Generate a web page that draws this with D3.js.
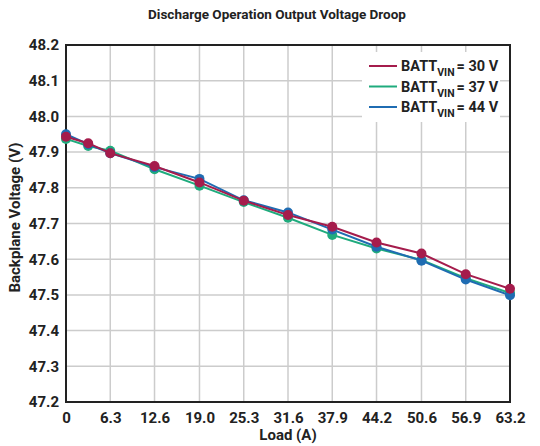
<!DOCTYPE html>
<html>
<head>
<meta charset="utf-8">
<script src="https://cdn.jsdelivr.net/npm/d3@7"></script>
<style>
  body { margin: 0; background: #fff; }
  svg { display: block; font-family: Roboto, "Noto Sans", sans-serif; font-weight: bold; }
</style>
</head>
<body>
<div id="chart"></div>
<script>
// data
const loadA = [0, 3.16, 6.3, 12.6, 19.0, 25.3, 31.6, 37.9, 44.2, 50.6, 56.9, 63.2];
const xTicks = [0, 6.3, 12.6, 19.0, 25.3, 31.6, 37.9, 44.2, 50.6, 56.9, 63.2];
const yTicks = [47.2, 47.3, 47.4, 47.5, 47.6, 47.7, 47.8, 47.9, 48.0, 48.1, 48.2];
const batt30 = [47.943, 47.925, 47.897, 47.861, 47.815, 47.764, 47.724, 47.691, 47.647, 47.616, 47.558, 47.517];
const batt37 = [47.937, 47.917, 47.904, 47.852, 47.806, 47.760, 47.716, 47.668, 47.630, 47.598, 47.547, 47.505];
const batt44 = [47.950, 47.922, 47.897, 47.858, 47.825, 47.765, 47.731, 47.683, 47.635, 47.596, 47.543, 47.499];
const seriesNames = ["30 V", "37 V", "44 V"];
const seriesColors = ["#a51c4c", "#1fab7d", "#1f6cb2"];

const W = 540, H = 446;
const margin = { top: 45, right: 30, bottom: 44, left: 66 };
const width = W - margin.left - margin.right;
const height = H - margin.top - margin.bottom;

const svg = d3.select("#chart").append("svg")
    .attr("width", W)
    .attr("height", H);

const g = svg.append("g")
    .attr("transform", `translate(${margin.left},${margin.top})`);

const x = d3.scaleLinear().domain([0, 63.2]).range([0, width]);
const y = d3.scaleLinear().domain([47.2, 48.2]).range([height, 0]);

// grid
g.append("g").selectAll("line")
    .data(xTicks)
    .join("line")
    .attr("x1", d => x(d)).attr("x2", d => x(d))
    .attr("y1", 0).attr("y2", height)
    .attr("stroke", "#cccccc").attr("stroke-width", 1.5);

g.append("g").selectAll("line")
    .data(yTicks)
    .join("line")
    .attr("x1", 0).attr("x2", width)
    .attr("y1", d => y(d)).attr("y2", d => y(d))
    .attr("stroke", "#cccccc").attr("stroke-width", 1.5);

// legend background (covers the grid)
const legend = g.append("g").attr("transform", `translate(${width - 148},7)`);
legend.append("rect")
    .attr("width", 138).attr("height", 70)
    .attr("fill", "#fff");

// axes
const xAxis = g.append("g")
    .attr("transform", `translate(0,${height})`)
    .call(d3.axisBottom(x).tickValues(xTicks).tickSize(0).tickPadding(10)
        .tickFormat(d => d === 0 ? "0" : d3.format(".1f")(d)));
const yAxis = g.append("g")
    .call(d3.axisLeft(y).tickValues(yTicks).tickSize(0).tickPadding(7)
        .tickFormat(d3.format(".1f")));

[xAxis, yAxis].forEach(a => {
    a.select(".domain").remove();
    a.selectAll("text")
        .style("font-family", "Roboto, sans-serif")
        .style("font-weight", "bold")
        .style("font-size", "15px")
        .style("fill", "#222");
});

// frame
g.append("rect")
    .attr("width", width).attr("height", height)
    .attr("fill", "none")
    .attr("stroke", "#222").attr("stroke-width", 2);

// series
const series = [batt30, batt37, batt44].map((vals, i) => ({
    name: seriesNames[i],
    color: seriesColors[i],
    points: vals.map((v, j) => ({ a: loadA[j], v: v }))
}));

const line = d3.line().x(d => x(d.a)).y(d => y(d.v));

// draw order: green, blue, red on top
const order = [1, 2, 0];
order.forEach(i => {
    const s = series[i];
    const sg = g.append("g");
    sg.append("path")
        .datum(s.points)
        .attr("d", line)
        .attr("fill", "none")
        .attr("stroke", s.color)
        .attr("stroke-width", 2);
    sg.selectAll("circle")
        .data(s.points)
        .join("circle")
        .attr("cx", d => x(d.a))
        .attr("cy", d => y(d.v))
        .attr("r", 5)
        .attr("fill", s.color);
});

// legend entries
series.forEach((s, i) => {
    const row = legend.append("g").attr("transform", `translate(0,${14 + i * 20.5})`);
    row.append("line")
        .attr("x1", 7).attr("x2", 35)
        .attr("stroke", s.color).attr("stroke-width", 2);
    const t = row.append("text")
        .attr("x", 39).attr("y", 5)
        .style("font-size", "14.5px")
        .style("fill", "#222");
    t.append("tspan").text("BATT");
    t.append("tspan").attr("dy", 5).style("font-size", "10.5px").text("VIN");
    t.append("tspan").attr("dy", -5).attr("dx", 2).text("= " + s.name);
});

// title and axis labels
svg.append("text")
    .attr("x", 277).attr("y", 19)
    .attr("text-anchor", "middle")
    .style("font-size", "13.5px")
    .style("fill", "#222")
    .text("Discharge Operation Output Voltage Droop");

svg.append("text")
    .attr("x", margin.left + width / 2).attr("y", 440)
    .attr("text-anchor", "middle")
    .style("font-size", "15px")
    .style("fill", "#222")
    .text("Load (A)");

svg.append("text")
    .attr("transform", `translate(20,${margin.top + height / 2 - 6}) rotate(-90)`)
    .attr("text-anchor", "middle")
    .style("font-size", "15px")
    .style("fill", "#222")
    .text("Backplane Voltage (V)");
</script>
</body>
</html>
